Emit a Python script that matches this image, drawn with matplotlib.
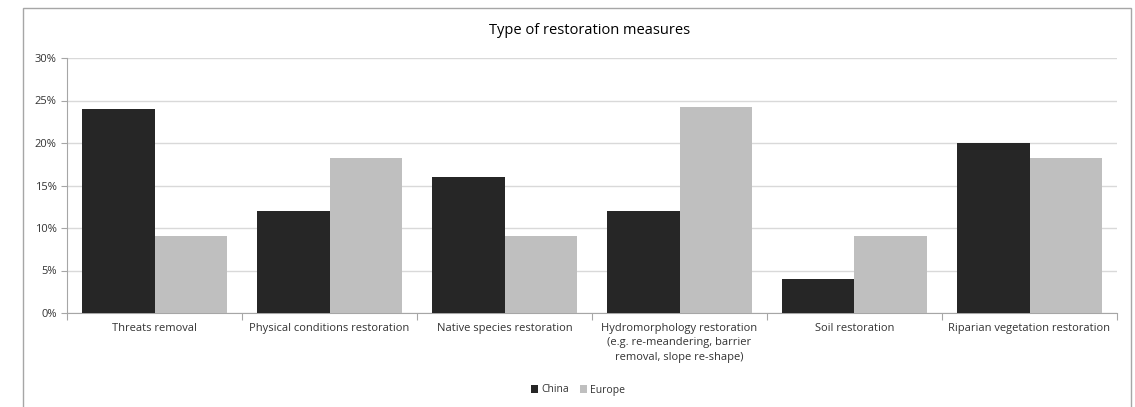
import matplotlib
matplotlib.use("Agg")
import matplotlib.pyplot as plt
import numpy as np
from matplotlib.patches import Rectangle
from matplotlib.ticker import PercentFormatter

categories = ["Threats removal", "Physical conditions restoration", "Native species restoration",
              "Hydromorphology restoration\n(e.g. re-meandering, barrier\nremoval, slope re-shape)",
              "Soil restoration", "Riparian vegetation restoration"]
china = [24.0, 12.0, 16.0, 12.0, 4.0, 20.0]
europe = [9.09, 18.18, 9.09, 24.24, 9.09, 18.18]
yticks = [0, 5, 10, 15, 20, 25, 30]

plt.rcParams['font.family'] = ['Open Sans', 'DejaVu Sans']
fig = plt.figure(figsize=(11.35, 4.07), dpi=100)
fig.patches.append(Rectangle((23/1135, -0.05), (1131-23)/1135, 1.05 - 8/407,
                             transform=fig.transFigure, fill=False, edgecolor='#a6a6a6', lw=1.0))
ax = fig.add_axes([67/1135, 1-313/407, (1117-67)/1135, (313-58)/407])

x = np.arange(len(categories))
w = 0.415
ax.bar(x - w/2, china, w, color='#262626', label='China', zorder=3)
ax.bar(x + w/2, europe, w, color='#bfbfbf', label='Europe', zorder=3)

ax.set_xlim(-0.5, len(categories) - 0.5)
ax.set_ylim(0, 30)
ax.set_yticks(yticks)
ax.yaxis.set_major_formatter(PercentFormatter(decimals=0))
ax.grid(axis='y', color='#d9d9d9', lw=1.0, zorder=0)
ax.set_xticks(np.arange(-0.5, len(categories)), labels=[''] * (len(categories) + 1))
ax.set_xticks(x, labels=categories, minor=True)
for lbl in ax.get_xticklabels(minor=True):
    lbl.set_linespacing(1.45)
ax.tick_params(axis='x', which='major', length=5, color='#a6a6a6', direction='out')
ax.tick_params(axis='x', which='minor', length=0, pad=7, labelsize=8, labelcolor='#333333')
ax.tick_params(axis='y', length=4, color='#a6a6a6', labelsize=8, labelcolor='#333333')
for s in ['top', 'right']:
    ax.spines[s].set_visible(False)
for s in ['left', 'bottom']:
    ax.spines[s].set_color('#a6a6a6')

fig.text(590/1135, 1-30/407, "Type of restoration measures", ha='center', va='center',
         fontsize=10.5, color='#000000')
fig.legend(loc='center', bbox_to_anchor=(578/1135, 1-390/407), ncol=2, frameon=False,
           fontsize=7.5, handlelength=0.7, handleheight=0.7, handletextpad=0.3, columnspacing=1.0,
           labelcolor='#333333')
fig.savefig("out.png", dpi=100)
